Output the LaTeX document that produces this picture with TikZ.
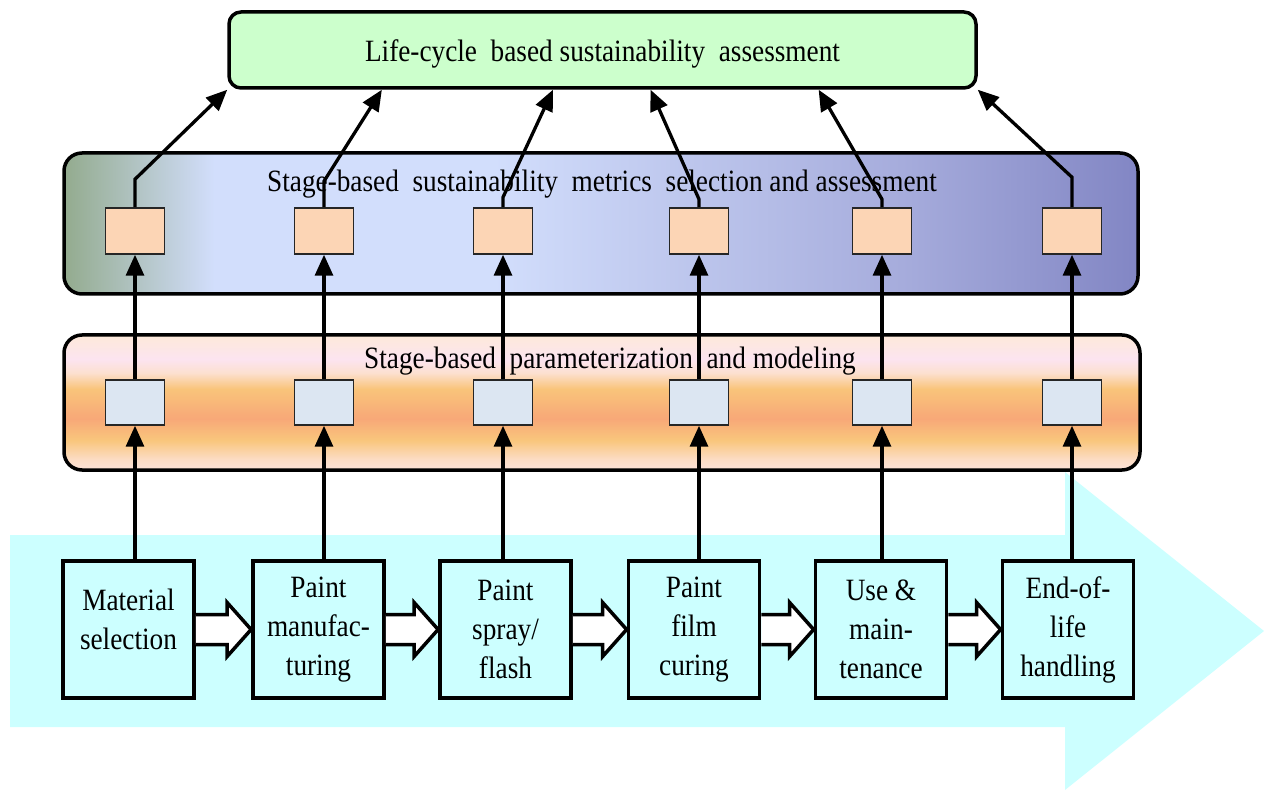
\documentclass[tikz,border=0pt]{standalone}
\usepackage{fontspec}
\setmainfont[FakeStretch=0.88]{Liberation Serif}
\usetikzlibrary{arrows.meta, positioning, calc}

\definecolor{lifegreen}{HTML}{CCFFCC}
\definecolor{flowcyan}{HTML}{CCFFFF}
\definecolor{outpeach}{HTML}{FCD5B5}
\definecolor{inpale}{HTML}{DCE6F2}
\definecolor{mgreen}{HTML}{93AB8E}
\definecolor{mlight}{HTML}{D2DEFC}
\definecolor{mmid}{HTML}{A6ACDC}
\definecolor{mdark}{HTML}{8286C4}
\definecolor{pbot}{HTML}{FCE2D8}
\definecolor{plow}{HTML}{FCDCC4}
\definecolor{porange}{HTML}{F9C67C}
\definecolor{psalmon}{HTML}{F8A878}
\definecolor{pup}{HTML}{F9C47A}
\definecolor{ppale}{HTML}{FCE0D0}
\definecolor{ppink}{HTML}{FCE4F0}
\definecolor{ptop}{HTML}{FDE9D9}

\pgfdeclarehorizontalshading{metricshade}{100bp}{color(0bp)=(mgreen); color(25bp)=(mgreen);
  color(32bp)=(mlight); color(45bp)=(mlight); color(64bp)=(mmid); color(75bp)=(mdark); color(100bp)=(mdark)}
\pgfdeclareverticalshading{paramshade}{100bp}{color(0bp)=(pbot); color(25bp)=(pbot);
  color(29bp)=(plow); color(36bp)=(porange); color(44bp)=(psalmon); color(55bp)=(pup);
  color(61bp)=(ppale); color(66bp)=(ppink); color(75bp)=(ptop); color(100bp)=(ptop)}

% hollow block arrow from one stage box to the next
\newcommand{\stepflow}[2]{%
  \filldraw[hollow] ($(#1.east)+(0,-15)$) -- ($(#2.west)+(-24,-15)$) -- ($(#2.west)+(-24,-27)$)
    -- (#2.west) -- ($(#2.west)+(-24,27)$) -- ($(#2.west)+(-24,15)$) -- ($(#1.east)+(0,15)$);}

\begin{document}
\begin{tikzpicture}[x=1pt, y=-1pt,
    txt/.style={font=\fontsize{31}{39}\selectfont},
    band/.style={draw, line width=3.5pt, rounded corners=18pt, inner sep=0pt},
    stagebox/.style={txt, draw, line width=3.8pt, fill=flowcyan, minimum width=131pt,
      minimum height=137pt, align=center, inner sep=2pt},
    outbox/.style={draw=black!85, line width=1.5pt, fill=outpeach, minimum width=59pt, minimum height=46pt, inner sep=0pt},
    inbox/.style={draw=black!85, line width=1.5pt, fill=inpale, minimum width=59pt, minimum height=45pt, inner sep=0pt},
    arr/.style={line width=3.3pt, -{Triangle[length=21pt,width=18pt]}},
    hollow/.style={draw=black, fill=white, line width=3.5pt}]
  \useasboundingbox (0,0) rectangle (1264,791);

  %--- big flow arrow in the background
  \fill[flowcyan] (10,535) -- (1065,535) -- (1065,472) -- (1264,631) -- (1065,790) -- (1065,727) -- (10,727) -- cycle;

  %--- the three layers
  \node[band, txt, fill=lifegreen, rounded corners=12pt, minimum width=747pt, minimum height=76pt, text height=30pt]
    (life) at (602.5,50) {Life-cycle\ \ based sustainability\ \ assessment};
  \node[band, shade, shading=metricshade, minimum width=1074pt, minimum height=141pt] (metrics) at (601,223.5) {};
  \node[band, shade, shading=paramshade, minimum width=1076pt, minimum height=135pt] (param) at (602,402.5) {};

  \node[txt] (mtitle) at ($(metrics.north)+(1,33)$) {Stage-based\ \ sustainability\ \ metrics\ \ selection and assessment};
  \node[txt] (ptitle) at ($(param.north)+(8,28)$) {Stage-based\ \ parameterization\ \ and modeling};

  %--- metrics boxes
  \node[outbox] (m1) at (135,231) {};
  \node[outbox] (m2) at (324,231) {};
  \node[outbox] (m3) at (503,231) {};
  \node[outbox] (m4) at (699,231) {};
  \node[outbox] (m5) at (882,231) {};
  \node[outbox] (m6) at (1072,231) {};

  %--- parameter boxes
  \node[inbox] (p1) at (135,402.5) {};
  \node[inbox] (p2) at (324,402.5) {};
  \node[inbox] (p3) at (503,402.5) {};
  \node[inbox] (p4) at (699,402.5) {};
  \node[inbox] (p5) at (882,402.5) {};
  \node[inbox] (p6) at (1072,402.5) {};

  %--- life-cycle stages
  \node[stagebox, text depth=21pt] (s1) at (128.5,629.5) {Material\\selection};
  \node[stagebox] (s2) at (318.5,629.5) {Paint\\manufac-\\turing};
  \node[stagebox] (s3) at (505.5,629.5) {Paint\\spray/\\flash};
  \node[stagebox] (s4) at (694,629.5)   {Paint\\film\\curing};
  \node[stagebox] (s5) at (881,629.5)   {Use \&\\main-\\tenance};
  \node[stagebox] (s6) at (1068,629.5)  {End-of-\\life\\handling};

  \stepflow{s1}{s2}
  \stepflow{s2}{s3}
  \stepflow{s3}{s4}
  \stepflow{s4}{s5}
  \stepflow{s5}{s6}

  %--- stage -> parameters
  \draw[arr] (s1.north -| p1) -- (p1.south);
  \draw[arr] (s2.north -| p2) -- (p2.south);
  \draw[arr] (s3.north -| p3) -- (p3.south);
  \draw[arr] (s4.north -| p4) -- (p4.south);
  \draw[arr] (s5.north -| p5) -- (p5.south);
  \draw[arr] (s6.north -| p6) -- (p6.south);

  %--- parameters -> metrics
  \draw[arr] (p1.north) -- (m1.south);
  \draw[arr] (p2.north) -- (m2.south);
  \draw[arr] (p3.north) -- (m3.south);
  \draw[arr] (p4.north) -- (m4.south);
  \draw[arr] (p5.north) -- (m5.south);
  \draw[arr] (p6.north) -- (m6.south);

  %--- metrics -> life-cycle assessment
  \draw[arr] (m1.north) -- ++(0,-28) -- (life.south west);
  \draw[arr] (m2.north) -- ++(0,-26) -- ($(life.south west)!0.206!(life.south east)$);
  \draw[arr] (m3.north) -- ++(0,-10) -- ($(life.south west)!0.434!(life.south east)$);
  \draw[arr] (m4.north) -- ++(0,-8)  -- ($(life.south west)!0.564!(life.south east)$);
  \draw[arr] (m5.north) -- ++(0,-8)  -- ($(life.south west)!0.788!(life.south east)$);
  \draw[arr] (m6.north) -- ++(0,-30) -- (life.south east);
\end{tikzpicture}
\end{document}
